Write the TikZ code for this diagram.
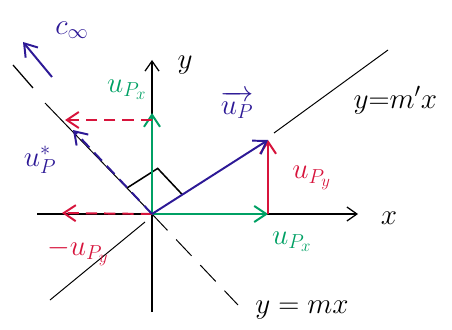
\documentclass[tikz,border=0pt]{standalone}
\usepackage{tikz}
\usetikzlibrary{arrows.meta,positioning,calc}
\usepackage{xcolor}
\usepackage{amsmath}
\usepackage{amssymb}
\definecolor{vecblue}{RGB}{45,25,150}
\definecolor{compred}{RGB}{215,20,60}
\definecolor{compgreen}{RGB}{0,160,100}

\begin{document}
\begin{tikzpicture}[
    axis/.style={-{Straight Barb[length=2.5mm,width=3.5mm]}, line width=0.9pt},
    guide/.style={line width=0.7pt},
    vec/.style={-{Straight Barb[length=3mm,width=4mm]}, line width=1.4pt},
    dashvec/.style={vec, dash pattern=on 8pt off 5pt},
    lbl/.style={font=\huge, inner sep=1pt}
]
    \useasboundingbox (0,0) rectangle (11.3,8.225);
    % points
    \coordinate (O) at (3.8,2.875);
    \coordinate (xL) at (0.925,2.875);
    \coordinate (xR) at (8.95,2.875);
    \coordinate (yB) at (3.8,0.425);
    \coordinate (yT) at (3.8,6.725);
    \coordinate (P) at (6.7,4.725);
    \coordinate (Px) at (6.7,2.875);
    \coordinate (Q) at (1.825,4.975);
    \coordinate (Qy) at (3.8,5.4);
    \coordinate (Ry) at (3.8,5.225);
    \coordinate (Rq) at (1.625,5.225);
    \coordinate (Rx) at (1.55,2.9);
    \coordinate (mxA) at (1.125,5.65);
    \coordinate (mxB) at (5.95,0.6);
    \coordinate (mpA) at (1.25,0.725);
    \coordinate (mpB) at (3.625,2.675);
    \coordinate (mpC) at (6.85,4.9);
    \coordinate (mpD) at (9.7,6.975);
    \coordinate (cT) at (1.3,6.3);
    \coordinate (cH) at (0.575,7.175);
    \coordinate (pA) at (0.325,6.6);
    \coordinate (pB) at (0.825,6.025);
    % guide lines
    \draw[guide] (mxA) -- (O);
    \draw[guide, dash pattern=on 16pt off 9pt] (O) -- (mxB);
    \draw[guide] (mpA) -- (mpB);
    \draw[guide] (mpC) -- (mpD);
    % axes
    \draw[axis] (xL) -- (xR);
    \draw[axis] (yB) -- (yT);
    % right angle
    \draw[line width=1.1pt] ($(O)!0.9cm!(P)$) -- ($(O)!0.9cm!(P) + (O)!0.9cm!(Q) - (O)$) -- ($(O)!0.9cm!(Q)$);
    % components
    \draw[vec, compgreen] (O) -- (Px);
    \draw[vec, compred] (Px) -- (P);
    \draw[vec, compgreen] (O) -- (Qy);
    \draw[dashvec, compred] (Ry) -- (Rq);
    \draw[dashvec, compred] (O) -- (Rx);
    % vectors
    \draw[vec, vecblue] (O) -- (P);
    \draw[dashvec, vecblue] (O) -- (Q);
    \draw[vec, vecblue] (cT) -- (cH);
    \draw[guide, line width=0.9pt] (pA) -- (pB);
    % labels
    \node[lbl] (xlab) at (9.725,2.775) {$x$};
    \node[lbl] (ylab) at (4.625,6.6) {$y$};
    \node[lbl, vecblue] (uplab) at (5.925,5.6) {$\overrightarrow{u_P}$};
    \node[lbl, compred] (upylab) at (7.8,3.775) {$u_{P_y}$};
    \node[lbl, compgreen] (upxlab) at (7.3,2.175) {$u_{P_x}$};
    \node[lbl, compgreen] (upxlab2) at (3.175,5.975) {$u_{P_x}$};
    \node[lbl, vecblue] (ustarlab) at (1.0,4.225) {$u_P^*$};
    \node[lbl, compred] (mupylab) at (1.95,1.925) {$-u_{P_y}$};
    \node[lbl, anchor=west] (mplab) at (8.8,5.725) {$y{=}m'x$};
    \node[lbl] (mlab) at (7.55,0.475) {$y=mx$};
    \node[lbl, vecblue] (clab) at (1.8,7.475) {$c_\infty$};
\end{tikzpicture}
\end{document}
